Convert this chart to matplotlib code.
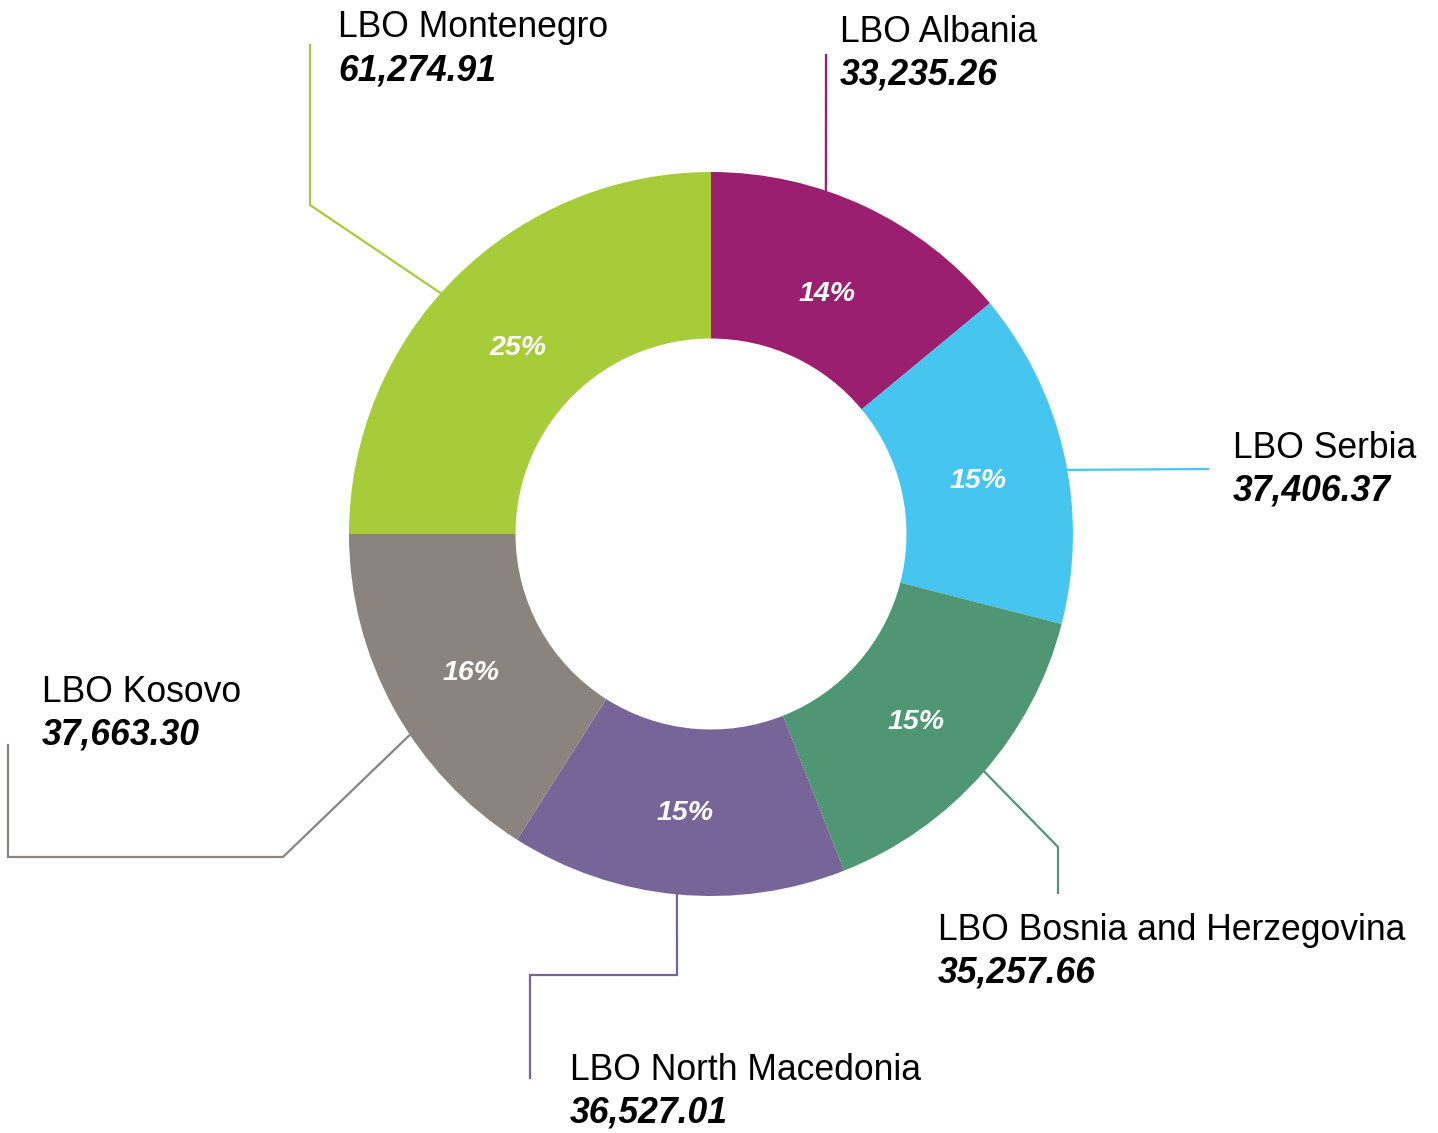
import numpy as np
import matplotlib.pyplot as plt

plt.rcParams['font.family'] = ['Liberation Sans', 'DejaVu Sans']

# data, clockwise from 12 o'clock
names = ["LBO Albania", "LBO Serbia", "LBO Bosnia and Herzegovina",
         "LBO North Macedonia", "LBO Kosovo", "LBO Montenegro"]
values = [33235.26, 37406.37, 35257.66, 36527.01, 37663.30, 61274.91]
shares = [14, 15, 15, 15, 16, 25]  # rounded percentages as shown on the ring
colors = ["#9B1F6E", "#47C5F1", "#4E9674", "#776598", "#8B837E", "#A6CC39"]

W, H = 1438, 1133
cx, cy, R = 711, H - 534, 362

# layout: label anchor (x, baseline y) in pixels from top-left,
# start angle of leader (deg clockwise from top), leader elbows
label_pos = [(840, 42), (1233, 458), (938, 940), (570, 1080), (42, 702), (338, 37)]
leader_ang = [18.5, 79.8, 131.0, 185.4, 236.3, 311.7]
leader_elbows = [
    [(826, 55)],
    [(1208, 469)],
    [(1058, 847), (1058, 893)],
    [(677, 975), (530, 975), (530, 1078)],
    [(283, 857), (8, 857), (8, 745)],
    [(310, 205), (310, 45)],
]

fig = plt.figure(figsize=(W / 100, H / 100), dpi=100)
ax = fig.add_axes([0, 0, 1, 1])

wedges, _, pcts = ax.pie(shares, colors=colors, startangle=90, counterclock=False,
       center=(cx, cy), radius=R, wedgeprops=dict(width=R * 0.46, linewidth=0),
       autopct=lambda p: f"{p:.0f}%", pctdistance=0.755,
       textprops=dict(color="white", fontsize=20.5, fontweight="bold", fontstyle="italic"))
# nudge percent labels a little lower, like the original
for t in pcts:
    x, y = t.get_position()
    t.set_position((x, y - 7))

for name, val, col, (lx, ly), ang, elb in zip(names, values, colors, label_pos,
                                              leader_ang, leader_elbows):
    a = np.deg2rad(ang)
    sx, sy = cx + R * np.sin(a), cy + R * np.cos(a)
    xs = [sx] + [p[0] for p in elb]
    ys = [sy] + [H - p[1] for p in elb]
    ax.plot(xs, ys, color=col, lw=1.6, solid_joinstyle="miter", zorder=0)
    ax.text(lx, H - ly, name, fontsize=25.6, va="baseline", ha="left", color="black")
    ax.text(lx, H - ly - 43, f"{val:,.2f}", fontsize=25.6, va="baseline", ha="left",
            color="black", fontweight="bold", fontstyle="italic")

ax.set_xlim(0, W)
ax.set_ylim(0, H)
ax.set_aspect("auto")
ax.axis("off")

fig.savefig("out.png", dpi=100)
